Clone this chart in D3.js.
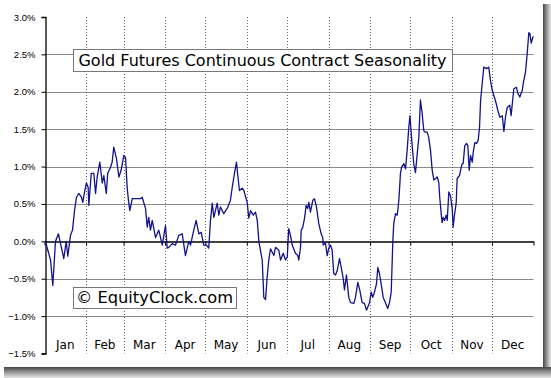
<!DOCTYPE html>
<html>
<head>
<meta charset="utf-8">
<script src="https://cdn.jsdelivr.net/npm/d3@7"></script>
<style>
  body { margin: 0; background: #fff; }
  svg { display: block; font-family: "DejaVu Sans", Verdana, sans-serif; }
</style>
</head>
<body>
<div id="chart"></div>
<script>
// seasonal profile: day of year -> % change
const days = [0.7, 4.5, 6.2, 8.2, 10.4, 14.4, 16.2, 17.4, 19.4, 20.9, 22.4, 23.9, 25.6, 27.6, 28.6, 29.9,
  31.3, 32.6, 33.1, 34.9, 36.8, 38.1, 39.3, 41.3, 43.1, 44.3, 46.1, 47.2, 49.3, 50.5, 51.7, 53.7,
  55.5, 57.2, 59.2, 60.5, 61.7, 62.9, 63.7, 65.5, 67.9, 71.7, 72.9, 75.4, 76.7, 77.8, 79.1, 80.4,
  82.9, 85.3, 87.9, 90.3, 91.6, 92.8, 95.3, 97.8, 100.2, 102.8, 105.2, 107.7, 109.0, 111.4, 113.2,
  115.2, 117.0, 118.9, 120.9, 122.6, 123.9, 125.2, 126.4, 128.9, 130.1, 131.4, 133.8, 136.4, 138.8,
  140.1, 141.8, 143.3, 144.3, 145.5, 147.6, 148.8, 151.3, 152.5, 153.8, 155.8, 157.5, 158.8, 160.0,
  161.2, 162.5, 163.7, 165.0, 166.2, 167.4, 168.7, 171.2, 172.4, 174.9, 176.2, 178.2, 179.9, 181.2,
  182.3, 183.6, 184.9, 187.3, 189.1, 189.8, 191.1, 191.6, 192.8, 194.1, 195.3, 196.5, 197.3, 198.5,
  200.3, 201.5, 203.0, 204.7, 206.5, 207.7, 208.0, 209.7, 211.0, 212.2, 213.5, 214.7, 215.9, 217.2,
  218.5, 220.2, 221.5, 223.0, 223.9, 225.4, 227.1, 228.4, 230.9, 232.1, 233.9, 235.3, 237.1, 238.8,
  240.3, 241.3, 242.6, 243.9, 245.0, 246.3, 247.8, 248.8, 250.0, 251.3, 252.8, 254.5, 256.2, 257.5,
  258.8, 260.0, 260.7, 262.0, 263.3, 264.5, 265.7, 266.5, 268.2, 269.5, 270.7, 271.9, 272.8, 273.9,
  275.6, 276.9, 278.2, 279.4, 280.6, 281.9, 283.1, 284.4, 285.6, 286.8, 288.1, 289.4, 290.6, 291.9,
  293.1, 294.3, 295.0, 296.1, 296.8, 297.6, 298.6, 299.8, 300.6, 301.8, 303.0, 304.3, 305.0, 306.0,
  307.3, 308.0, 309.8, 311.0, 311.8, 312.5, 313.7, 315.0, 316.0, 317.0, 318.0, 319.3, 320.0, 321.2,
  322.5, 323.7, 324.7, 325.5, 326.7, 327.9, 329.9, 331.6, 332.9, 334.2, 336.6, 338.4, 339.9, 341.7,
  342.9, 344.1, 345.4, 347.3, 348.3, 350.3, 352.3, 353.3, 354.8, 356.6, 357.7, 359.0, 360.3, 361.5,
  362.3, 363.3, 364.5, 365.0];
const values = [0.00, -0.25, -0.59, 0.00, 0.10, -0.23, 0.00, -0.20, 0.08, 0.15, 0.41, 0.59, 0.64, 0.59, 0.52, 0.66,
  0.78, 0.72, 0.48, 0.91, 0.91, 0.64, 0.86, 1.06, 0.78, 0.88, 0.64, 0.91, 0.99, 1.06, 1.26, 1.11,
  0.86, 0.95, 1.15, 1.12, 0.72, 0.51, 0.41, 0.57, 0.57, 0.57, 0.59, 0.44, 0.19, 0.32, 0.15, 0.28,
  0.05, 0.15, -0.05, 0.21, -0.09, -0.08, -0.03, -0.05, 0.08, 0.10, -0.19, 0.00, -0.05, 0.15, 0.28,
  0.10, 0.12, -0.05, -0.05, -0.09, 0.28, 0.51, 0.32, 0.51, 0.35, 0.46, 0.37, 0.44, 0.55,
  0.72, 0.91, 1.06, 0.88, 0.68, 0.71, 0.68, 0.52, 0.31, 0.41, 0.35, 0.39, 0.28, 0.00,
  -0.12, -0.25, -0.75, -0.78, -0.48, -0.25, -0.10, -0.19, -0.08, -0.12, -0.25, -0.16, -0.25, -0.21,
  0.17, 0.08, -0.05, -0.16, -0.19, -0.25, -0.08, 0.15, 0.19, 0.31, 0.48, 0.44, 0.52, 0.39,
  0.55, 0.57, 0.46, 0.24, 0.10, 0.05, -0.05, -0.02, -0.19, -0.09, -0.05, -0.12, -0.43, -0.45,
  -0.39, -0.23, -0.35, -0.50, -0.65, -0.45, -0.75, -0.82, -0.83, -0.75, -0.55, -0.65, -0.82, -0.83,
  -0.92, -0.88, -0.82, -0.68, -0.75, -0.68, -0.57, -0.35, -0.43, -0.57, -0.75, -0.82, -0.90, -0.82,
  -0.68, 0.00, 0.24, 0.37, 0.35, 0.55, 0.91, 0.99, 1.04, 0.97, 1.22, 1.52, 1.68, 1.40,
  1.04, 0.92, 1.17, 1.39, 1.89, 1.71, 1.48, 1.46, 1.46, 1.39, 1.22, 0.95, 0.82, 0.84,
  0.86, 0.79, 0.59, 0.37, 0.25, 0.32, 0.28, 0.35, 0.28, 0.66, 0.61, 0.44, 0.19, 0.35,
  0.51, 0.84, 0.88, 0.99, 1.04, 1.04, 1.28, 1.31, 1.28, 0.95, 1.15, 1.06, 1.19, 1.32,
  1.31, 1.35, 1.52, 1.88, 2.11, 2.33, 2.31, 2.33, 2.15, 2.02, 1.88, 1.75, 1.66, 1.68,
  1.47, 1.66, 1.79, 1.82, 1.68, 2.04, 2.06, 1.98, 1.93, 2.02, 2.15, 2.26, 2.51, 2.79,
  2.78, 2.65, 2.73, 2.74];

const months = ["Jan", "Feb", "Mar", "Apr", "May", "Jun", "Jul", "Aug", "Sep", "Oct", "Nov", "Dec"];
const monthStarts = [0, 31, 59, 90, 120, 151, 181, 212, 243, 273, 304, 334, 365];
const yTicks = [-1.5, -1.0, -0.5, 0.0, 0.5, 1.0, 1.5, 2.0, 2.5, 3.0];

const title = "Gold Futures Continuous Contract Seasonality";
const credit = "\u00A9 EquityClock.com";

const width = 551;
const height = 378;

const svg = d3.select("#chart")
  .append("svg")
  .attr("width", width)
  .attr("height", height);

// drop shadow along right and bottom edges
const defs = svg.append("defs");
const gr = defs.append("linearGradient").attr("id", "shadowR").attr("x1", 0).attr("x2", 1).attr("y1", 0).attr("y2", 0);
gr.append("stop").attr("offset", "0%").attr("stop-color", "#444");
gr.append("stop").attr("offset", "40%").attr("stop-color", "#8a8a8a");
gr.append("stop").attr("offset", "100%").attr("stop-color", "#e8e8e8");
const gb = defs.append("linearGradient").attr("id", "shadowB").attr("x1", 0).attr("x2", 0).attr("y1", 0).attr("y2", 1);
gb.append("stop").attr("offset", "0%").attr("stop-color", "#444");
gb.append("stop").attr("offset", "40%").attr("stop-color", "#8a8a8a");
gb.append("stop").attr("offset", "100%").attr("stop-color", "#e8e8e8");

svg.append("rect").attr("x", 543).attr("y", 4).attr("width", 8).attr("height", 374).attr("fill", "url(#shadowR)");
svg.append("rect").attr("x", 4).attr("y", 367).attr("width", 547).attr("height", 11).attr("fill", "url(#shadowB)");
svg.append("rect").attr("x", 0).attr("y", 0).attr("width", 543).attr("height", 367).attr("fill", "#fff");

const xScale = d3.scaleLinear().domain([0, 365]).range([44.5, 533.5]);
const yScale = d3.scaleLinear().domain([-1.5, 3.0]).range([353.5, 17]);

// horizontal gridlines
svg.append("g")
  .selectAll("line")
  .data(yTicks.filter((d) => d !== 0 && d !== -1.5 && d !== 3.0))
  .join("line")
  .attr("x1", xScale(0))
  .attr("x2", xScale(365))
  .attr("y1", (d) => Math.round(yScale(d)) + 0.5)
  .attr("y2", (d) => Math.round(yScale(d)) + 0.5)
  .attr("stroke", "#8a8a8a")
  .attr("stroke-width", 1);

// month separators
svg.append("g")
  .selectAll("line")
  .data(monthStarts.slice(1, 12))
  .join("line")
  .attr("x1", (d) => Math.round(xScale(d)) + 0.5)
  .attr("x2", (d) => Math.round(xScale(d)) + 0.5)
  .attr("y1", yScale(3.0))
  .attr("y2", yScale(-1.5))
  .attr("stroke", "#666")
  .attr("stroke-dasharray", "1,2");

// y axis
const yAxis = d3.axisLeft(yScale)
  .tickValues(yTicks)
  .tickSize(4)
  .tickFormat((d) => d3.format(".1f")(d) + "%");

const yG = svg.append("g")
  .attr("transform", `translate(${Math.round(xScale(0)) + 0.5},0)`)
  .call(yAxis);
yG.selectAll("text").attr("font-size", 9.5).attr("fill", "#000").attr("dx", "-3");
yG.selectAll("line, path").attr("stroke", "#000");
yG.select(".domain").attr("stroke-width", 1.3);

// x axis on the zero line
const xAxis = d3.axisBottom(xScale)
  .tickValues(monthStarts)
  .tickSize(4)
  .tickSizeOuter(0)
  .tickFormat("");
const xG = svg.append("g")
  .attr("transform", `translate(0,${Math.round(yScale(0)) + 0.5})`)
  .call(xAxis);
xG.selectAll("line, path").attr("stroke", "#000");
xG.select(".domain").attr("stroke-width", 1.3);

// month labels
svg.append("g")
  .selectAll("text")
  .data(months)
  .join("text")
  .attr("x", (d, i) => xScale((monthStarts[i] + monthStarts[i + 1]) / 2))
  .attr("y", 349)
  .attr("text-anchor", "middle")
  .attr("font-size", 12)
  .attr("fill", "#000")
  .text((d) => d);

// seasonal line
const line = d3.line()
  .x((d) => xScale(d[0]))
  .y((d) => yScale(d[1]));

svg.append("path")
  .datum(d3.zip(days, values))
  .attr("d", line)
  .attr("fill", "none")
  .attr("stroke", "#12128c")
  .attr("stroke-width", 1.3)
  .attr("stroke-linejoin", "round");

// boxed labels
function boxedLabel(text, x, y, w, h, size) {
  const g = svg.append("g");
  g.append("rect")
    .attr("x", x + 0.5)
    .attr("y", y + 0.5)
    .attr("width", w)
    .attr("height", h)
    .attr("fill", "#fff")
    .attr("stroke", "#777");
  g.append("text")
    .attr("x", x + w / 2)
    .attr("y", y + h / 2 + size * 0.36)
    .attr("text-anchor", "middle")
    .attr("font-size", size)
    .attr("fill", "#000")
    .text(text);
}

boxedLabel(title, 73, 49, 379, 22, 16);
boxedLabel(credit, 73, 287, 163, 21, 16.3);
</script>
</body>
</html>
